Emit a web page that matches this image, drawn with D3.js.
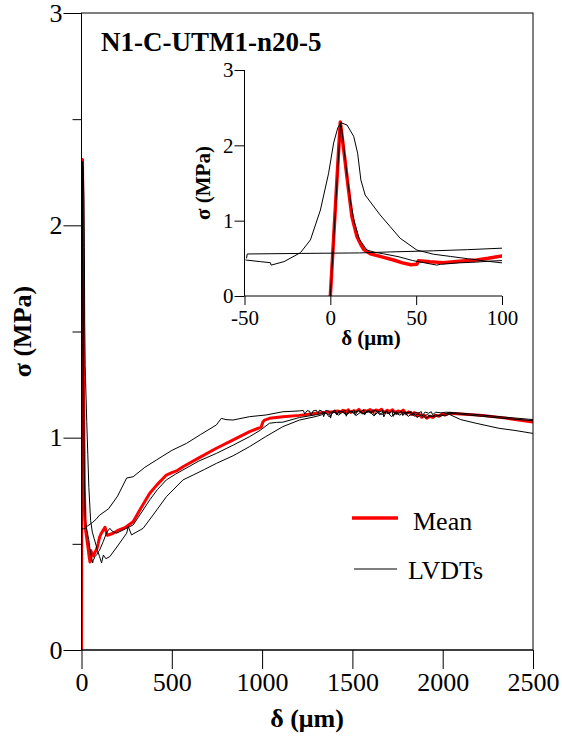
<!DOCTYPE html>
<html>
<head>
<meta charset="utf-8">
<script src="https://cdn.jsdelivr.net/npm/d3@7"></script>
<style>
  html, body { margin: 0; padding: 0; background: #fff; }
</style>
</head>
<body>
<svg id="chart" width="562" height="737"></svg>
<script>
// ---------- data (x = δ in µm, y = σ in MPa) ----------
const chartTitle = "N1-C-UTM1-n20-5";
const mainXTicks = [0, 500, 1000, 1500, 2000, 2500];
const mainYTicks = [0, 1, 2, 3];
const mainYMinor = [0.5, 1.5, 2.5];
const insetXTicks = [-50, 0, 50, 100];
const insetYTicks = [0, 1, 2, 3];
const legendLabels = ["Mean", "LVDTs"];

const meanCurve = [
  [0,0],[2,0.8],[4,1.6],[5.8,2.31],[7.8,1.94],[10.6,1.41],[12.6,1.05],[15.5,0.79],[17.4,0.70],
  [19.4,0.62],[23.3,0.56],[30,0.52],[36.8,0.478],[42,0.44],[47,0.415],[50.4,0.42],[51.3,0.469],
  [58,0.455],[65.9,0.443],[75,0.46],[85.3,0.478],[92,0.50],[99.8,0.53],[110,0.55],[130,0.578],
  [143,0.54],[160,0.545],[176,0.55],[205,0.565],[240,0.576],[286,0.604],[330,0.67],[378,0.738],
  [420,0.78],[470,0.824],[500,0.835],[530,0.845],[562,0.863],[650,0.905],[747,0.95],[840,0.99],
  [931,1.028],[995,1.05],[1005,1.075],[1014,1.083],[1041,1.091],[1115,1.099],[1207,1.105],
  [1300,1.115],[1391,1.122],[1420,1.126],[1432,1.118],[1447,1.129],[1461,1.121],[1478,1.131],
  [1490,1.119],[1507,1.127],[1522,1.124],[1536,1.133],[1551,1.12],[1569,1.128],[1580,1.123],
  [1598,1.132],[1612,1.121],[1630,1.13],[1648,1.126],[1661,1.134],[1675,1.119],[1693,1.129],
  [1704,1.122],[1722,1.131],[1737,1.117],[1752,1.126],[1769,1.121],[1781,1.13],[1798,1.112],
  [1812,1.122],[1828,1.109],[1841,1.118],[1857,1.104],[1868,1.113],[1884,1.096],[1899,1.105],
  [1912,1.092],[1928,1.101],[1944,1.095],[1960,1.106],[1979,1.101],[1995,1.11],[2015,1.107],
  [2036,1.115],[2100,1.112],[2220,1.105],[2350,1.092],[2488,1.075],[2500,1.074]
];

const lvdtB = [
  [0,0],[2,0.75],[4,1.55],[6,2.3],[7,2.15],[8.5,1.85],[10,1.55],[12,1.22],[14,0.98],[17,0.75],
  [21.3,0.61],[26,0.58],[31,0.56],[40,0.52],[48,0.47],[55,0.44],[62,0.41],[64,0.42],[75,0.44],
  [85,0.45],[93,0.463],[100,0.47],[120,0.51],[140,0.555],[157,0.573],[170,0.56],[194,0.55],
  [230,0.565],[286,0.589],[330,0.645],[378,0.707],[420,0.755],[470,0.801],[520,0.828],[562,0.848],
  [650,0.89],[747,0.926],[840,0.965],[931,1.005],[990,1.035],[1041,1.068],[1080,1.072],[1115,1.073],
  [1207,1.095],[1300,1.108],[1322,1.112],[1341,1.121],[1366,1.109],[1392,1.124],[1418,1.114],
  [1437,1.126],[1463,1.109],[1489,1.123],[1508,1.115],[1531,1.128],[1559,1.111],[1582,1.125],
  [1601,1.116],[1627,1.129],[1652,1.108],[1671,1.123],[1698,1.113],[1723,1.127],[1742,1.109],
  [1768,1.122],[1791,1.112],[1818,1.121],[1842,1.101],[1863,1.113],[1889,1.097],[1914,1.109],
  [1937,1.099],[1962,1.108],[1988,1.1],[2010,1.112],[2036,1.115],[2100,1.11],
  [2220,1.1],[2350,1.09],[2500,1.08]
];

const lvdtD = [
  [-49.4,0.478],[-40.7,0.456],[-34.9,0.442],[-34.5,0.41],[-27,0.456],[-17.4,0.575],[-11.6,0.744],
  [-5.8,1.14],[-1,1.63],[1.9,2.03],[4.3,2.23],[6.2,2.30],[9.7,2.27],[13.6,2.12],[15.9,1.895],
  [17.8,1.54],[20.3,1.34],[29,1.076],[34.9,0.92],[40.7,0.766],[50.4,0.61],[60,0.555],[70,0.525],
  [80,0.495],[90,0.465],[100,0.44],[111,0.41],[121,0.447],[135,0.43],[157,0.44],[200,0.49],
  [250,0.55],[259,0.581],[277,0.542],[341,0.573],[400,0.64],[470,0.722],[562,0.801],[618,0.824],
  [680,0.85],[747,0.879],[840,0.915],[931,0.958],[1020,1.005],[1115,1.052],[1207,1.083],
  [1300,1.1],[1328,1.107],[1352,1.119],[1371,1.098],[1396,1.121],[1424,1.106],[1447,1.123],
  [1468,1.108],[1494,1.125],[1521,1.104],[1546,1.121],[1567,1.111],[1593,1.127],[1618,1.103],
  [1641,1.119],[1664,1.109],[1689,1.125],[1716,1.099],[1738,1.117],[1763,1.106],[1787,1.122],
  [1809,1.1],[1836,1.116],[1858,1.095],[1883,1.109],[1907,1.092],[1931,1.104],[1956,1.097],
  [1984,1.108],[2012,1.103],[2036,1.11],[2100,1.085],[2184,1.068],
  [2312,1.044],[2400,1.034],[2500,1.02]
];

const lvdtC = [
  [-48.8,0.50],[-48.4,0.558],[-17,0.565],[17,0.572],[35,0.585],[60,0.6],[80,0.615],[100,0.635],
  [150,0.665],[200,0.725],[250,0.81],[286,0.816],[350,0.86],[415,0.895],[500,0.94],[581,0.973],
  [660,1.015],[747,1.06],[774,1.091],[800,1.085],[839,1.083],[931,1.099],[1023,1.107],[1115,1.122],
  [1207,1.126],[1228,1.128],[1236,1.112],[1249,1.127],[1263,1.125],[1271,1.104],[1282,1.126],
  [1301,1.129],[1309,1.113],[1318,1.13],[1333,1.124],[1341,1.099],[1352,1.128],[1371,1.125],
  [1379,1.092],[1388,1.12],[1404,1.131],[1413,1.107],[1427,1.128],[1442,1.117],[1459,1.132],
  [1466,1.101],[1478,1.127],[1497,1.12],[1509,1.131],[1516,1.106],[1531,1.129],[1548,1.121],
  [1561,1.133],[1569,1.109],[1583,1.13],[1599,1.118],[1614,1.133],[1621,1.103],[1636,1.127],
  [1652,1.121],[1667,1.131],[1674,1.098],[1688,1.125],[1705,1.112],[1719,1.126],[1726,1.1],
  [1741,1.122],[1758,1.115],[1772,1.125],[1779,1.104],[1793,1.12],[1811,1.117],[1826,1.124],
  [1833,1.106],[1848,1.12],[1866,1.116],[1881,1.123],[1888,1.105],[1903,1.121],[1921,1.115],
  [1937,1.122],[1944,1.108],[1961,1.12],[1990,1.117],[2020,1.12],[2060,1.118],[2150,1.112],
  [2300,1.1],[2500,1.085]
];

const lvdtCurves = [lvdtB, lvdtD, lvdtC];

// ---------- pick an installed serif font (Times-like) ----------
function fontAvailable(name) {
  const c = document.createElement("canvas").getContext("2d");
  const probe = "N1-C-UTM1 Mean LVDTs 0123456789 mmmWWWiii";
  let differs = false;
  for (const base of ["monospace", "sans-serif"]) {
    c.font = `40px ${base}`;
    const w0 = c.measureText(probe).width;
    c.font = `40px "${name}", ${base}`;
    const w1 = c.measureText(probe).width;
    if (Math.abs(w1 - w0) > 0.5) differs = true;
  }
  return differs;
}
const serifCandidates = ["Liberation Serif", "Times New Roman", "Tinos", "Nimbus Roman",
  "Nimbus Roman No9 L", "FreeSerif", "DejaVu Serif", "Noto Serif", "Times"];
const chosen = serifCandidates.find(fontAvailable);
const SERIF = chosen ? `"${chosen}", serif` : "serif";

const svg = d3.select("#chart");
const FONT_BIG = 26, FONT_SMALL = 21;

function drawPanel(opts) {
  const { xDomain, yDomain, xRange, yRange, id, frame, xTicks, yTicks, yMinor,
          tickLen, minorLen, xTickLen, fontSize, xPad, yPad, meanWidth } = opts;
  const x = d3.scaleLinear().domain(xDomain).range(xRange);
  const y = d3.scaleLinear().domain(yDomain).range(yRange);
  const g = svg.append("g");

  svg.append("defs").append("clipPath").attr("id", id)
    .append("rect")
    .attr("x", xRange[0]).attr("y", yRange[1])
    .attr("width", xRange[1] - xRange[0]).attr("height", yRange[0] - yRange[1]);

  const line = d3.line().x(d => x(d[0])).y(d => y(d[1]));
  const plot = g.append("g").attr("clip-path", `url(#${id})`);
  plot.append("path").datum(meanCurve).attr("d", line)
    .attr("fill", "none").attr("stroke", "#ff0000").attr("stroke-width", meanWidth)
    .attr("stroke-linejoin", "round");
  lvdtCurves.forEach(c => {
    plot.append("path").datum(c).attr("d", line)
      .attr("fill", "none").attr("stroke", "#000").attr("stroke-width", 1)
      .attr("stroke-linejoin", "round");
  });

  const xAxis = d3.axisBottom(x).tickValues(xTicks).tickSize(xTickLen).tickPadding(xPad)
    .tickFormat(d => String(d));
  const gx = g.append("g").attr("transform", `translate(0,${yRange[0]})`).call(xAxis);
  const yAxis = d3.axisLeft(y).tickValues(yTicks).tickSize(tickLen).tickPadding(yPad)
    .tickFormat(d => String(d));
  const gy = g.append("g").attr("transform", `translate(${xRange[0]},0)`).call(yAxis);
  if (yMinor) {
    g.append("g").attr("transform", `translate(${xRange[0]},0)`)
      .call(d3.axisLeft(y).tickValues(yMinor).tickSize(minorLen).tickFormat(""))
      .select(".domain").remove();
  }
  [gx, gy].forEach(a => {
    a.attr("font-family", SERIF).attr("font-size", fontSize);
    a.selectAll("text").attr("font-family", SERIF).attr("fill", "#000");
    a.selectAll("line").attr("stroke", "#000");
    a.select(".domain").attr("stroke", "#000");
  });
  gx.select(".domain").attr("d", `M${xRange[0]},0H${xRange[1]}`);
  gy.select(".domain").attr("d", `M0,${yRange[0]}V${yRange[1]}`);
  if (frame) {
    g.append("rect").attr("x", xRange[0]).attr("y", yRange[1])
      .attr("width", xRange[1] - xRange[0]).attr("height", yRange[0] - yRange[1])
      .attr("fill", "none").attr("stroke", "#000").attr("stroke-width", 1);
  }
  return { x, y };
}

drawPanel({
  id: "clipMain", xDomain: [0, 2500], yDomain: [0, 3],
  xRange: [81.5, 533], yRange: [650, 13], frame: true,
  xTicks: mainXTicks, yTicks: mainYTicks, yMinor: mainYMinor,
  tickLen: 18, minorLen: 9, xTickLen: 19, fontSize: FONT_BIG, xPad: 4, yPad: 1, meanWidth: 3
});

drawPanel({
  id: "clipInset", xDomain: [-50, 100], yDomain: [0, 3],
  xRange: [244.5, 502], yRange: [296, 70], frame: false,
  xTicks: insetXTicks, yTicks: insetYTicks, yMinor: null,
  tickLen: 10, minorLen: 0, xTickLen: 9, fontSize: FONT_SMALL, xPad: 5, yPad: 1, meanWidth: 3.5
});

function label(sel) { return sel.attr("font-family", SERIF).attr("fill", "#000"); }

label(svg.append("text")).attr("x", 101).attr("y", 51)
  .attr("font-size", 27).attr("font-weight", "bold").text(chartTitle);

label(svg.append("text")).attr("x", 307).attr("y", 727).attr("text-anchor", "middle")
  .attr("font-size", FONT_BIG).attr("font-weight", "bold").text("δ (μm)");
label(svg.append("text")).attr("transform", "translate(31,331.5) rotate(-90)").attr("text-anchor", "middle")
  .attr("font-size", FONT_BIG).attr("font-weight", "bold").text("σ (MPa)");

label(svg.append("text")).attr("x", 371).attr("y", 345).attr("text-anchor", "middle")
  .attr("font-size", FONT_SMALL).attr("font-weight", "bold").text("δ (μm)");
label(svg.append("text")).attr("transform", "translate(210,183) rotate(-90)").attr("text-anchor", "middle")
  .attr("font-size", FONT_SMALL).attr("font-weight", "bold").text("σ (MPa)");

const legend = svg.append("g");
legend.append("line").attr("x1", 352).attr("x2", 398).attr("y1", 518).attr("y2", 518)
  .attr("stroke", "#ff0000").attr("stroke-width", 3.5);
label(legend.append("text")).attr("x", 413).attr("y", 530).attr("font-size", FONT_BIG).text(legendLabels[0]);
legend.append("line").attr("x1", 354).attr("x2", 397).attr("y1", 569).attr("y2", 569)
  .attr("stroke", "#000").attr("stroke-width", 1);
label(legend.append("text")).attr("x", 408).attr("y", 579).attr("font-size", FONT_BIG).text(legendLabels[1]);
</script>
</body>
</html>
